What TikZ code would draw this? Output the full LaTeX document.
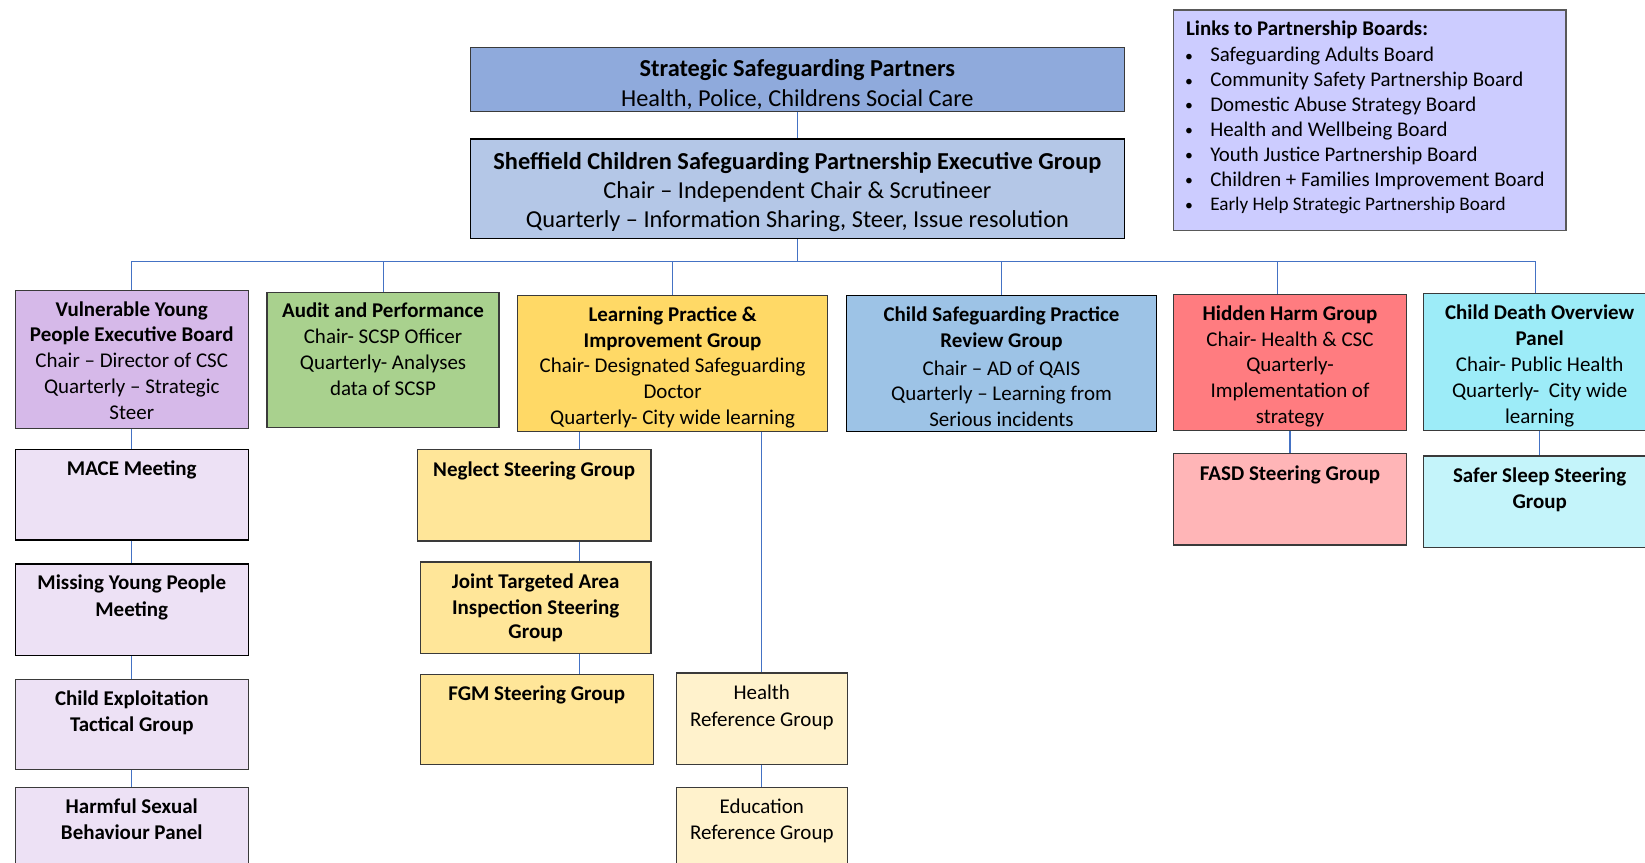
\documentclass[tikz,border=0pt]{standalone}
\usepackage{fontspec}
\setmainfont{Carlito}
\usetikzlibrary{calc}
\definecolor{cStrat}{HTML}{8FAADC}
\definecolor{cExec}{HTML}{B4C7E7}
\definecolor{cLinks}{HTML}{CCCCFF}
\definecolor{cVyp}{HTML}{D6B9E9}
\definecolor{cVypL}{HTML}{EDE1F5}
\definecolor{cAudit}{HTML}{A9D18E}
\definecolor{cLpi}{HTML}{FFD966}
\definecolor{cLpiL}{HTML}{FFE699}
\definecolor{cRef}{HTML}{FFF2CC}
\definecolor{cCspr}{HTML}{9DC3E6}
\definecolor{cHh}{HTML}{FF7C80}
\definecolor{cHhL}{HTML}{FFB5B7}
\definecolor{cCdop}{HTML}{9DECF8}
\definecolor{cCdopL}{HTML}{C4F4FA}
\definecolor{cLine}{HTML}{4472C4}
\definecolor{cBorder}{HTML}{3A3A3A}
\newcommand{\fsz}[2]{\fontsize{#1}{#2}\selectfont}
\newcommand{\tbox}[4]{\parbox[c][#2][t]{#1}{\centering\vspace*{#3}\strut #4\par}}
\newcommand{\blt}{\hspace*{11pt}\makebox[24pt][l]{\raisebox{0.5pt}{\fsz{15}{23.7}\textbullet}}}
\tikzset{
  box/.style={draw=cBorder, line width=1.2pt, inner sep=0pt, anchor=north west},
  conn/.style={draw=cLine, line width=1pt},
  mid/.style={font=\fsz{20}{24.6}},
  big/.style={font=\fsz{23.2}{28}},
}
\begin{document}
\begin{tikzpicture}[x=1pt,y=-1pt]
\useasboundingbox (0,0) rectangle (1568,822);
\clip (0,0) rectangle (1568,822);

% top level
\node[box, big, fill=cStrat] (strat) at (448,45)
  {\tbox{623pt}{61pt}{8pt}{\textbf{Strategic Safeguarding Partners}\\Health, Police, Childrens Social Care}};
\node[box, big, fill=cExec, draw=black] (exec) at (448,132)
  {\tbox{623pt}{95pt}{9pt}{\textbf{Sheffield Children Safeguarding Partnership Executive Group}\\Chair – Independent Chair \& Scrutineer\\Quarterly – Information Sharing, Steer, Issue resolution}};

\node[box, fill=cLinks, draw=black!65, font=\fsz{19.9}{23.7}] (links) at (1118,9)
  {\parbox[c][210pt][t]{374pt}{\raggedright\vspace*{8pt}\strut\hspace*{12pt}\textbf{Links to Partnership Boards:}\\[1pt]
   \blt Safeguarding Adults Board\\
   \blt Community Safety Partnership Board\\
   \blt Domestic Abuse Strategy Board\\
   \blt Health and Wellbeing Board\\
   \blt Youth Justice Partnership Board\\
   \blt Children + Families Improvement Board\\
   \blt {\fsz{18.3}{23.7}Early Help Strategic Partnership Board}\par}};

% row 1
\node[box, mid, fill=cVyp] (vyp) at (14,276)
  {\tbox{222pt}{132pt}{7.5pt}{\textbf{Vulnerable Young\\People Executive Board}\\Chair – Director of CSC\\Quarterly – Strategic\\Steer}};
\node[box, mid, fill=cAudit] (audit) at (254,278)
  {\tbox{221pt}{129pt}{7pt}{\textbf{Audit and Performance}\\Chair- SCSP Officer\\Quarterly- Analyses\\data of SCSP}};
\node[box, mid, fill=cLpi] (lpi) at (493,281)
  {\tbox{295pt}{130pt}{7.5pt}{\textbf{Learning Practice \&\\Improvement Group}\\Chair- Designated Safeguarding\\Doctor\\Quarterly- City wide learning}};
\node[box, mid, fill=cCspr, draw=black] (cspr) at (806,281)
  {\tbox{296pt}{130pt}{7.5pt}{\textbf{Child Safeguarding Practice\\Review Group}\\[2pt]Chair – AD of QAIS\\Quarterly – Learning from\\Serious incidents}};
\node[box, mid, fill=cHh] (hh) at (1118,280)
  {\tbox{222pt}{130pt}{7.5pt}{\textbf{Hidden Harm Group}\\Chair- Health \& CSC\\Quarterly-\\Implementation of\\strategy}};
\node[box, mid, fill=cCdop] (cdop) at (1356,279)
  {\tbox{222pt}{131pt}{8pt}{\textbf{Child Death Overview\\Panel}\\Chair- Public Health\\Quarterly-\ \ City wide\\learning}};

% VYP column
\node[box, mid, fill=cVypL, draw=black] (mace) at (14,428)
  {\tbox{222pt}{86pt}{7.5pt}{\textbf{MACE Meeting}}};
\node[box, mid, fill=cVypL, draw=black] (myp) at (14,537)
  {\tbox{222pt}{87pt}{7.5pt}{\textbf{Missing Young People\\[1pt]Meeting}}};
\node[box, mid, fill=cVypL] (cetg) at (14,647)
  {\tbox{222pt}{86pt}{7.5pt}{\textbf{Child Exploitation\\Tactical Group}}};
\node[box, mid, fill=cVypL] (hsb) at (14,750)
  {\tbox{222pt}{100pt}{7.5pt}{\textbf{Harmful Sexual\\Behaviour Panel}}};

% LPI column
\node[box, mid, fill=cLpiL] (neg) at (397,428)
  {\tbox{223pt}{87pt}{8pt}{\textbf{Neglect Steering Group}}};
\node[box, mid, fill=cLpiL] (jtai) at (400,535)
  {\tbox{220pt}{87pt}{8pt}{\textbf{Joint Targeted Area\\Inspection Steering\\[-1.5pt]Group}}};
\node[box, mid, fill=cLpiL] (fgm) at (400,642)
  {\tbox{222pt}{86pt}{8pt}{\textbf{FGM Steering Group}}};
\node[box, mid, fill=cRef] (href) at (644,641)
  {\tbox{163pt}{87pt}{8pt}{Health\\[1pt]Reference Group}};
\node[box, mid, fill=cRef] (eref) at (644,750)
  {\tbox{163pt}{100pt}{7.5pt}{Education\\Reference Group}};

% HH / CDOP sub
\node[box, mid, fill=cHhL] (fasd) at (1118,432)
  {\tbox{222pt}{87pt}{8pt}{\textbf{FASD Steering Group}}};
\node[box, mid, fill=cCdopL] (ssg) at (1356,434)
  {\tbox{222pt}{87pt}{8pt}{\textbf{Safer Sleep Steering\\Group}}};

% connectors
\coordinate (busL) at (125,249);
\coordinate (busR) at (1464,249);
\coordinate (hhx) at (1218,249);
\coordinate (lx) at (552,0);
\draw[conn] (strat.south) -- (exec.north);
\draw[conn] (exec.south) -- (exec.south |- busL);
\draw[conn] (busL) -- (busR);
\draw[conn] (vyp.north |- busL) -- (vyp.north);
\draw[conn] (audit.north |- busL) -- (audit.north);
\draw[conn] (lpi.north |- busL) -- (lpi.north);
\draw[conn] (cspr.north |- busL) -- (cspr.north);
\draw[conn] (hhx) -- (hhx |- hh.north);
\draw[conn] (busR) -- (busR |- cdop.north);
\draw[conn] (vyp.south) -- (mace.north);
\draw[conn] (mace.south) -- (myp.north);
\draw[conn] (myp.south) -- (cetg.north);
\draw[conn] (cetg.south) -- (hsb.north);
\draw[conn] (lpi.south -| lx) -- (neg.north -| lx);
\draw[conn] (neg.south -| lx) -- (jtai.north -| lx);
\draw[conn] (jtai.south -| lx) -- (fgm.north -| lx);
\draw[conn] (lpi.south -| href.north) -- (href.north);
\draw[conn] (href.south) -- (eref.north);
\draw[conn] (hh.south -| fasd.north) -- (fasd.north);
\draw[conn] (cdop.south) -- (ssg.north);
\end{tikzpicture}
\end{document}
